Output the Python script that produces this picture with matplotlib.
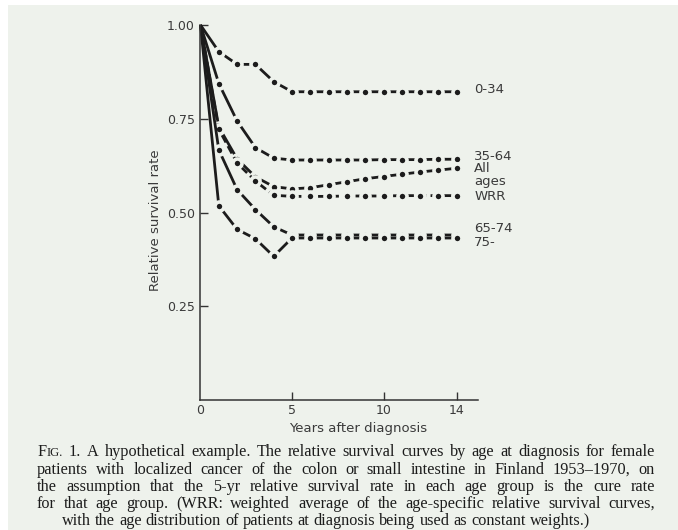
import matplotlib
matplotlib.use("Agg")
import matplotlib.pyplot as plt
from matplotlib.patches import Rectangle

# values (relative survival rate by year after diagnosis)
years = list(range(0, 15))
rate_0_34 = [1.00, 0.929, 0.895, 0.895, 0.849, 0.822, 0.822, 0.822, 0.822, 0.822, 0.822, 0.822, 0.822, 0.822, 0.822]
rate_35_64 = [1.00, 0.844, 0.744, 0.673, 0.645, 0.640, 0.640, 0.640, 0.640, 0.640, 0.641, 0.641, 0.641, 0.642, 0.642]
rate_all_ages = [1.00, 0.728, 0.643, 0.595, 0.569, 0.563, 0.566, 0.574, 0.582, 0.590, 0.596, 0.602, 0.608, 0.613, 0.618]
rate_wrr = [1.00, 0.722, 0.632, 0.584, 0.546, 0.543, 0.543, 0.543, 0.544, 0.544, 0.544, 0.545, 0.545, 0.545, 0.545]
rate_65_74 = [1.00, 0.667, 0.561, 0.508, 0.462, 0.440, 0.440, 0.440, 0.440, 0.440, 0.440, 0.440, 0.440, 0.440, 0.440]
rate_75 = [1.00, 0.518, 0.455, 0.430, 0.383, 0.432, 0.432, 0.432, 0.432, 0.432, 0.432, 0.432, 0.432, 0.432, 0.432]

# right-hand curve labels and the rate level they sit at
end_labels = ["0-34", "35-64", "All", "ages", "WRR", "65-74", "75-"]
end_label_levels = [0.827, 0.650, 0.617, 0.583, 0.543, 0.456, 0.419]

x_ticks = [0, 5, 10, 14]
y_ticks = [0.25, 0.50, 0.75, 1.00]
y_tick_labels = ["0.25", "0.50", "0.75", "1.00"]

caption_lines = [
    "FIG. 1. A hypothetical example. The relative survival curves by age at diagnosis for female",
    "patients with localized cancer of the colon or small intestine in Finland 1953\u20131970, on",
    "the assumption that the 5-yr relative survival rate in each age group is the cure rate",
    "for that age group. (WRR: weighted average of the age-specific relative survival curves,",
    "with the age distribution of patients at diagnosis being used as constant weights.)",
]

BG = "#eef2ec"
INK = "#1c1c1c"
GREY = "#3a3a3a"
W, H = 678, 530


def draw_line(fig, renderer, text, x0, x1, y_px, size, justify):
    words = text.split(" ")
    objs = []
    for w in words:
        if w == "FIG.":
            pieces = [("F", size), ("IG.", size * 0.78)]
        else:
            pieces = [(w, size)]
        parts = []
        for s, fs in pieces:
            t = fig.text(0, 1 - y_px / H, s, fontsize=fs, family="Liberation Serif",
                         color=INK, va="baseline", ha="left")
            parts.append(t)
        objs.append(parts)

    widths = []
    for parts in objs:
        ws = [p.get_window_extent(renderer).width for p in parts]
        widths.append(ws)
    total = sum(sum(ws) for ws in widths)
    if justify and len(objs) > 1:
        gap = (x1 - x0 - total) / (len(objs) - 1)
    else:
        gap = size * 100 / 72 * 0.25

    x = x0
    for parts, ws in zip(objs, widths):
        for p, wpx in zip(parts, ws):
            p.set_x(x / W)
            x += wpx
        x += gap


def main():
    fig = plt.figure(figsize=(W / 100, H / 100), dpi=100, facecolor="white")
    fig.patches.append(Rectangle((8 / W, 0), 1, 1 - 5 / H, transform=fig.transFigure,
                                 facecolor=BG, edgecolor="none", zorder=-10))

    left, right, bottom, top = 200.5, 478, 400, 25
    ax = fig.add_axes([left / W, 1 - bottom / H, (right - left) / W, (bottom - top) / H])
    ax.set_facecolor("none")
    ax.set_xlim(0, (right - left) / 18.3)
    ax.set_ylim(0, 1.0)

    line_kw = dict(color=INK, lw=2.0, marker="o", ms=6.5, mfc=INK, mec=BG, mew=2.6,
                   markevery=slice(1, None), clip_on=False, solid_capstyle="butt")
    ax.plot(years, rate_0_34, ls="-", **line_kw)
    ax.plot(years, rate_35_64, ls="-", **line_kw)
    ax.plot(years, rate_all_ages, ls="-", **line_kw)
    ax.plot(years, rate_wrr, ls=(0, (3, 1.5)), **line_kw)
    ax.plot(years, rate_65_74, ls="-", **line_kw)
    ax.plot(years, rate_75, ls="-", **line_kw)

    for label, level in zip(end_labels, end_label_levels):
        ax.text(14.95, level, label, fontsize=9.5, color=GREY, va="center", ha="left")

    for side in ["top", "right"]:
        ax.spines[side].set_visible(False)
    for side in ["left", "bottom"]:
        ax.spines[side].set_color("#333333")
        ax.spines[side].set_linewidth(1.1)

    ax.set_yticks(y_ticks, y_tick_labels)
    ax.set_xticks(x_ticks, [str(v) for v in x_ticks])
    ax.tick_params(axis="both", direction="in", length=6, width=1.0, color="#333333",
                   labelsize=9, labelcolor=GREY)
    ax.tick_params(axis="y", pad=4)
    ax.tick_params(axis="x", pad=3)
    ax.xaxis.get_major_ticks()[0].tick1line.set_visible(False)

    ax.set_ylabel("Relative survival rate", fontsize=9.5, color=GREY)
    ax.yaxis.set_label_coords((162 - left) / (right - left), (bottom - 220) / (bottom - top))
    ax.set_xlabel("Years after diagnosis", fontsize=9.5, color=GREY)
    ax.xaxis.set_label_coords((358 - left) / (right - left), (bottom - 422) / (bottom - top))

    renderer = fig.canvas.get_renderer()
    baselines = [456, 473.5, 491, 508, 525]
    for i, line in enumerate(caption_lines):
        last = i == len(caption_lines) - 1
        x0 = 62 if last else 37
        draw_line(fig, renderer, line, x0, 655, baselines[i], 11.7, not last)

    fig.savefig("out.png", dpi=100, facecolor=fig.get_facecolor())


if __name__ == "__main__":
    main()
